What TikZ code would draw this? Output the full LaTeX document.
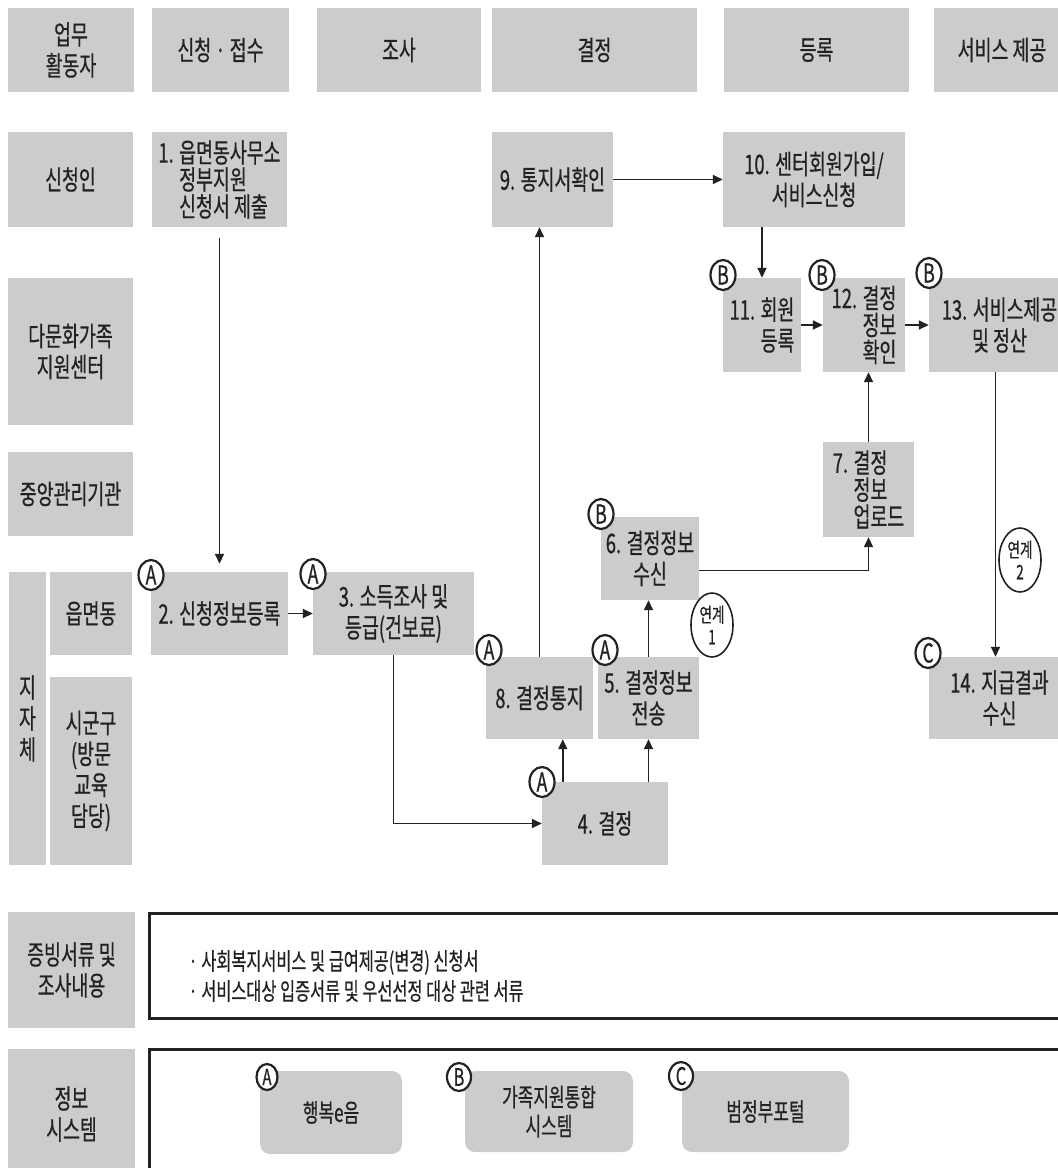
\documentclass[tikz,border=0pt]{standalone}
\usepackage{fontspec}
\setmainfont{Noto Sans CJK KR}[FakeStretch=0.68,FakeBold=0.6]
\usetikzlibrary{arrows.meta,shapes.geometric}
\definecolor{boxgray}{HTML}{CCCCCC}
\definecolor{ink}{HTML}{222222}

\begin{document}
\begin{tikzpicture}[x=1pt,y=-1pt,
    box/.style={fill=boxgray,inner sep=0pt,align=center,text=ink,font=\fontsize{27}{31}\selectfont},
    tight/.style={font=\fontsize{27}{27}\selectfont},
    sz/.style 2 args={minimum width=#1pt,minimum height=#2pt},
    sys/.style={box,rounded corners=10pt,font=\fontsize{25}{29}\selectfont},
    tag/.style={ellipse,draw=ink,line width=2.2pt,fill=white,inner sep=0pt,minimum width=25pt,minimum height=30pt,text=ink,font=\fontsize{26}{26}\selectfont},
    link/.style={ellipse,draw=ink,line width=1.6pt,fill=white,inner sep=0pt,minimum width=42pt,minimum height=64pt,align=center,text=ink,font=\fontsize{20}{22}\selectfont},
    arr/.style={draw=ink,line width=1.6pt,-{Triangle[length=10pt,width=9pt]}},
    frame/.style={draw=ink,line width=3pt}]
  \useasboundingbox (0,0) rectangle (1058,1168);

  \node[box,sz={126}{84}] (h0) at (71,50) {업무\\활동자};
  \node[box,sz={137}{84}] (h1) at (220.5,50) {신청 · 접수};
  \node[box,sz={164}{84}] (h2) at (399,50) {조사};
  \node[box,sz={205}{84}] (h3) at (594.5,50) {결정};
  \node[box,sz={185}{84}] (h4) at (816.5,50) {등록};
  \node[box,sz={136}{84}] (h5) at (1002,50) {서비스 제공};

  \node[box,sz={125}{95}] (r1) at (70.5,179.5) {신청인};
  \node[box,sz={125}{147}] (r2) at (70.5,351.5) {다문화가족\\지원센터};
  \node[box,sz={125}{84}] (r3) at (70.5,494) {중앙관리기관};
  \node[box,sz={37}{293}] (r4) at (27.5,718.5) {지\\자\\체};
  \node[box,sz={82}{83}] (r5) at (91,613.5) {읍면동};
  \node[box,sz={82}{188}] (r6) at (91,771) {시군구\\(방문\\교육\\담당)};
  \node[box,sz={127}{116}] (r7) at (71.5,970) {증빙서류 및\\조사내용};
  \node[box,sz={127}{130}] (r8) at (71.5,1114) {정보\\시스템};

  \node[box,tight,sz={135}{95},align=left] (n1) at (219.5,179.5) {1. 읍면동사무소\\\phantom{1. }정부지원\\\phantom{1. }신청서 제출};
  \node[box,sz={137}{83}] (n2) at (219.5,613.5) {2. 신청정보등록};
  \node[box,sz={161}{83}] (n3) at (393.5,613.5) {3. 소득조사 및\\등급(건보료)};
  \node[box,sz={126}{83}] (n4) at (605,823.5) {4. 결정};
  \node[box,sz={101}{82}] (n5) at (648.5,698) {5. 결정정보\\전송};
  \node[box,sz={98}{83}] (n6) at (650,558.5) {6. 결정정보\\수신};
  \node[box,tight,sz={91}{95},align=left] (n7) at (868.5,489.5) {7. 결정\\\phantom{7. }정보\\\phantom{7. }업로드};
  \node[box,sz={107}{82}] (n8) at (539.5,698) {8. 결정통지};
  \node[box,sz={121}{95}] (n9) at (552.5,179.5) {9. 통지서확인};
  \node[box,sz={182}{95}] (n10) at (814,179.5) {10. 센터회원가입/\\서비스신청};
  \node[box,sz={78}{94},align=left] (n11) at (762,325) {11. 회원\\\phantom{11. }등록};
  \node[box,tight,sz={82}{94},align=left] (n12) at (864,325) {12. 결정\\\phantom{12. }정보\\\phantom{12. }확인};
  \node[box,sz={141}{94}] (n13) at (999.5,325) {13. 서비스제공\\및 정산};
  \node[box,sz={141}{82}] (n14) at (999.5,698) {14. 지급결과\\수신};

  \draw[arr,shorten <=11pt,shorten >=8pt] (n1) -- (n2);
  \draw[arr] (n2) -- (n3);
  \draw[arr] (n3) |- (n4);
  \path ([xshift=21pt]n4.north west) coordinate (p4);
  \draw[arr] (p4) -- (p4 |- n8.south);
  \draw[arr] (n5.south |- n4.north) -- (n5.south);
  \draw[arr] (n5.north) -- (n5.north |- n6.south);
  \draw[arr] ([yshift=-12pt]n6.east) -| (n7.south);
  \draw[arr] (n7.north) -- (n7.north |- n12.south);
  \draw[arr] (n8.north) -- (n8.north |- n9.south);
  \draw[arr] (n9) -- (n10);
  \draw[arr] (n11.north |- n10.south) -- (n11.north);
  \draw[arr] (n11) -- (n12);
  \draw[arr] (n12) -- (n13);
  \draw[arr] ([xshift=-4pt]n13.south) -- ([xshift=-4pt]n14.north);

  \node[tag] (a2) at (151,575) {A};
  \node[tag] (a3) at (313,574) {A};
  \node[tag] (a8) at (489,650) {A};
  \node[tag] (a5) at (605,650) {A};
  \node[tag] (a4) at (542,782) {A};
  \node[tag] (b6) at (601,514) {B};
  \node[tag] (b11) at (723,275) {B};
  \node[tag] (b12) at (822,275) {B};
  \node[tag] (b13) at (929,273) {B};
  \node[tag] (c14) at (928,653) {C};
  \node[link] (k1) at (712,625) {연계\\1};
  \node[link] (k2) at (1020,560) {연계\\2};

  \draw[frame] (149,913) rectangle (1075,1018);
  \node[anchor=west,align=left,text=ink,font=\fontsize{24}{30}\selectfont] (t1) at (185,976) {· 사회복지서비스 및 급여제공(변경) 신청서\\· 서비스대상 입증서류 및 우선선정 대상 관련 서류};
  \draw[frame] (149,1049) rectangle (1075,1190);
  \node[sys,sz={142}{83}] (s1) at (331,1112.5) {행복e음};
  \node[sys,sz={168}{81}] (s2) at (549,1111.5) {가족지원통합\\시스템};
  \node[sys,sz={167}{81}] (s3) at (765.5,1111.5) {범정부포털};
  \node[tag,minimum width=21pt,minimum height=26pt,font=\fontsize{22}{22}\selectfont] (sa) at (267,1077) {A};
  \node[tag,minimum width=24pt,minimum height=28pt,font=\fontsize{24}{24}\selectfont] (sb) at (459,1077) {B};
  \node[tag,minimum width=24pt,minimum height=28pt,font=\fontsize{24}{24}\selectfont] (sc) at (681,1076) {C};
\end{tikzpicture}
\end{document}
